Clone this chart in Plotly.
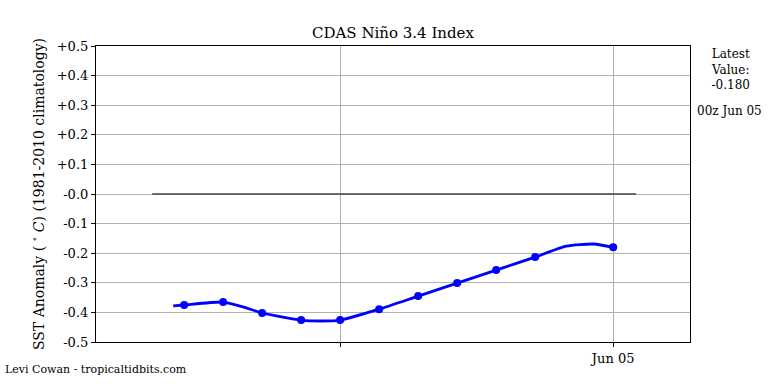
import plotly.graph_objects as go

# Days relative to 00z Jun 05
marker_days = [-11, -10, -9, -8, -7, -6, -5, -4, -3, -2, 0]
marker_vals = [-0.375, -0.365, -0.402, -0.426, -0.426, -0.389, -0.345, -0.301, -0.257, -0.213, -0.180]

line_days = [-11.28, -11, -10, -9.5, -9, -8, -7.5, -7, -6, -5, -4, -3, -2, -1.2, -0.5, 0]
line_vals = [-0.378, -0.375, -0.365, -0.381, -0.402, -0.426, -0.429, -0.426, -0.389, -0.345,
             -0.301, -0.257, -0.213, -0.176, -0.169, -0.180]

zero_days = [-11.82, 0.59]
zero_vals = [0.0, 0.0]

x_tick_vals = [-7, 0]
x_tick_text = [" ", "Jun 05"]
y_tick_vals = [0.5, 0.4, 0.3, 0.2, 0.1, 0.0, -0.1, -0.2, -0.3, -0.4, -0.5]
y_tick_text = ["+0.5", "+0.4", "+0.3", "+0.2", "+0.1", "-0.0", "-0.1", "-0.2", "-0.3", "-0.4", "-0.5"]

FONT = "DejaVu Serif, Liberation Serif, serif"

fig = go.Figure()
fig.add_trace(go.Scatter(x=zero_days, y=zero_vals, mode="lines",
                         line=dict(color="#444444", width=1.3), hoverinfo="skip"))
fig.add_trace(go.Scatter(x=line_days, y=line_vals, mode="lines",
                         line=dict(color="#0000ff", width=2.8, shape="spline", smoothing=0.6)))
fig.add_trace(go.Scatter(x=marker_days, y=marker_vals, mode="markers",
                         marker=dict(color="#0000ff", size=8)))

fig.update_layout(
    width=768, height=384,
    margin=dict(l=96, r=78, t=46, b=42),
    paper_bgcolor="white", plot_bgcolor="white",
    showlegend=False,
    font=dict(family=FONT, color="black", size=13),
    title=dict(text="CDAS Niño 3.4 Index", x=393/768, xanchor="center",
               y=1 - 33/384, yanchor="middle", font=dict(family=FONT, size=15)),
    xaxis=dict(range=[-13.26, 1.97], tickvals=x_tick_vals, ticktext=x_tick_text,
               showgrid=True, gridcolor="#b0b0b0", gridwidth=1,
               ticks="outside", ticklen=4, tickcolor="black",
               showline=True, linecolor="black", linewidth=1.2, mirror=True,
               zeroline=False, tickfont=dict(family=FONT, size=13)),
    yaxis=dict(range=[-0.5, 0.5], tickvals=y_tick_vals, ticktext=y_tick_text,
               showgrid=True, gridcolor="#b0b0b0", gridwidth=1,
               ticks="outside", ticklen=4, tickcolor="black",
               showline=True, linecolor="black", linewidth=1.2, mirror=True,
               zeroline=False, tickfont=dict(family=FONT, size=13),
               title=dict(text="SST Anomaly ( <sup>∘</sup> <i>C</i>) (1981-2010 climatology)",
                          font=dict(family=FONT, size=14), standoff=8)),
    annotations=[
        dict(text="Latest<br>Value:<br>-0.180", xref="paper", yref="paper",
             x=(730 - 96) / 594, y=1 + 1 / 296, xanchor="center", yanchor="top",
             showarrow=False, font=dict(family=FONT, size=12), align="center"),
        dict(text="00z Jun 05", xref="paper", yref="paper",
             x=(729 - 96) / 594, y=(342 - 111) / 296, xanchor="center", yanchor="middle",
             showarrow=False, font=dict(family=FONT, size=12)),
        dict(text="Levi Cowan - tropicaltidbits.com", xref="paper", yref="paper",
             x=-93 / 594, y=-(369 - 342) / 296, xanchor="left", yanchor="middle",
             showarrow=False, font=dict(family=FONT, size=11)),
    ],
)

fig.write_html("out.html", config={"displayModeBar": False},
               post_script="document.body.style.margin='0';")
